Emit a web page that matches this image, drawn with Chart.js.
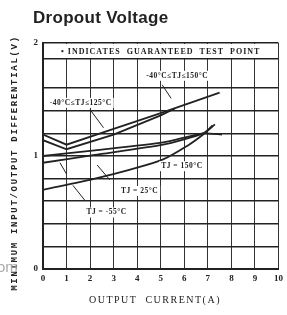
<!DOCTYPE html>
<html>
<head>
<meta charset="utf-8">
<script src="https://cdn.jsdelivr.net/npm/chart.js@4/dist/chart.umd.min.js"></script>
<style>
  html, body { margin: 0; padding: 0; background: #fff; }
  #wrap { width: 287px; height: 315px; }
</style>
</head>
<body>
<div id="wrap"><canvas id="dropoutChart" width="287" height="315"></canvas></div>
<script>
// guaranteed limit lines
const guar150X = [0, 1, 3, 5, 7.5];
const guar150Y = [1.19, 1.10, 1.24, 1.38, 1.56];
const guar125X = [0, 1, 3, 5, 5.6];
const guar125Y = [1.14, 1.06, 1.19, 1.36, 1.42];
// typical curves
const tj150X = [0, 2.2, 5.1, 6.8, 7.6];
const tj150Y = [1.00, 1.05, 1.12, 1.20, 1.19];
const tj25X = [0, 2.2, 5.1, 6.8, 7.2];
const tj25Y = [0.94, 1.01, 1.10, 1.20, 1.27];
const tjm55X = [0, 2.2, 3.7, 5.1, 6.2, 6.8, 7.3];
const tjm55Y = [0.70, 0.80, 0.88, 0.97, 1.10, 1.19, 1.28];

const xTicks = [0, 1, 2, 3, 4, 5, 6, 7, 8, 9, 10];
const yTickLabels = [0, 1, 2];

const toPoints = (xs, ys) => xs.map((x, i) => ({ x, y: ys[i] }));

const ink = '#222';
const serif = '"Liberation Serif", "DejaVu Serif", serif';

function line(xs, ys, tension) {
    return {
        data: toPoints(xs, ys),
        borderColor: ink,
        borderWidth: 1.8,
        pointRadius: 0,
        tension: tension
    };
}

const annotate = {
    id: 'annotate',
    beforeDatasetsDraw(chart) {
        const { ctx, chartArea: a, scales: { x, y } } = chart;
        // note box at the top
        const yb = y.getPixelForValue(1.86);
        ctx.save();
        ctx.fillStyle = '#fff';
        ctx.fillRect(a.left + 1, a.top + 1, a.right - a.left - 2, yb - a.top - 1);
        ctx.strokeStyle = ink;
        ctx.lineWidth = 1.5;
        ctx.beginPath();
        ctx.moveTo(a.left, yb);
        ctx.lineTo(a.right, yb);
        ctx.stroke();
        ctx.fillStyle = ink;
        ctx.font = 'bold 8px ' + serif;
        ctx.letterSpacing = '1px';
        ctx.textBaseline = 'middle';
        ctx.fillText('\u2022 INDICATES  GUARANTEED  TEST  POINT', a.left + 18, (a.top + yb) / 2 + 1);
        ctx.restore();
    },
    afterDatasetsDraw(chart) {
        const { ctx, scales: { x, y } } = chart;
        ctx.save();
        ctx.strokeStyle = ink;
        ctx.lineWidth = 1;
        const pointers = [
            [5.06, 1.63, 5.44, 1.51],
            [2.0, 1.41, 2.57, 1.25],
            [0.72, 0.94, 1.0, 0.84],
            [2.3, 0.92, 2.83, 0.79],
            [1.27, 0.74, 1.77, 0.61]
        ];
        pointers.forEach(p => {
            ctx.beginPath();
            ctx.moveTo(x.getPixelForValue(p[0]), y.getPixelForValue(p[1]));
            ctx.lineTo(x.getPixelForValue(p[2]), y.getPixelForValue(p[3]));
            ctx.stroke();
        });
        const labels = [
            ['-40\u00b0C\u2264TJ\u2264150\u00b0C', 5.7, 1.71],
            ['-40\u00b0C\u2264TJ\u2264125\u00b0C', 1.6, 1.47],
            ['TJ = 150\u00b0C', 5.9, 0.91],
            ['TJ = 25\u00b0C', 4.1, 0.69],
            ['TJ = -55\u00b0C', 2.7, 0.50]
        ];
        ctx.font = 'bold 7.5px ' + serif;
        ctx.letterSpacing = '0.5px';
        ctx.textAlign = 'center';
        ctx.textBaseline = 'middle';
        labels.forEach(l => {
            const px = x.getPixelForValue(l[1]);
            const py = y.getPixelForValue(l[2]);
            const w = ctx.measureText(l[0]).width;
            ctx.fillStyle = '#fff';
            ctx.fillRect(px - w / 2 - 2, py - 5, w + 4, 10);
            ctx.fillStyle = ink;
            ctx.fillText(l[0], px, py);
        });
        ctx.restore();
    },
    afterDraw(chart) {
        const { ctx } = chart;
        ctx.save();
        ctx.fillStyle = '#222';
        ctx.font = 'bold 17px "Liberation Sans", Arial, sans-serif';
        ctx.letterSpacing = '0.3px';
        ctx.textBaseline = 'alphabetic';
        ctx.fillText('Dropout Voltage', 33, 23);

        ctx.font = 'bold 9px "Liberation Mono", monospace';
        ctx.letterSpacing = '1.7px';
        ctx.textAlign = 'center';
        ctx.textBaseline = 'middle';
        ctx.translate(15, 163);
        ctx.rotate(-Math.PI / 2);
        ctx.fillText('MINIMUM INPUT/OUTPUT DIFFERENTIAL(V)', 0, 0);
        ctx.restore();

        ctx.save();
        ctx.fillStyle = '#222';
        ctx.font = '10px ' + serif;
        ctx.letterSpacing = '1.5px';
        ctx.textAlign = 'center';
        ctx.textBaseline = 'middle';
        ctx.fillText('OUTPUT  CURRENT(A)', 155, 300);

        ctx.letterSpacing = '0px';
        ctx.fillStyle = '#aaa';
        ctx.font = '15px "Liberation Sans", Arial, sans-serif';
        ctx.textAlign = 'left';
        ctx.fillText('om', -3, 268);
        ctx.restore();
    }
};

new Chart(document.getElementById('dropoutChart'), {
    type: 'line',
    data: {
        datasets: [
            line(guar150X, guar150Y, 0),
            line(guar125X, guar125Y, 0),
            line(tj150X, tj150Y, 0.2),
            line(tj25X, tj25Y, 0.2),
            line(tjm55X, tjm55Y, 0.3)
        ]
    },
    options: {
        responsive: false,
        animation: false,
        layout: { padding: { top: 43, right: 7, left: 0, bottom: 0 } },
        plugins: { legend: { display: false }, tooltip: { enabled: false } },
        scales: {
            x: {
                type: 'linear',
                min: 0,
                max: 10,
                afterFit(scale) { scale.height = 46; },
                afterBuildTicks(scale) { scale.ticks = xTicks.map(v => ({ value: v })); },
                ticks: {
                    color: ink,
                    font: { family: serif, size: 9, weight: 'bold' },
                    padding: 4,
                    maxRotation: 0
                },
                grid: { color: '#333', lineWidth: 1, drawTicks: false },
                border: { color: ink, width: 2 }
            },
            y: {
                min: 0,
                max: 2,
                afterFit(scale) { scale.width = 43; },
                ticks: {
                    stepSize: 0.2,
                    color: ink,
                    font: { family: serif, size: 9, weight: 'bold' },
                    padding: 5,
                    callback: v => (yTickLabels.includes(Math.round(v * 10) / 10) ? String(Math.round(v)) : '')
                },
                grid: {
                    color: ctx => (Math.abs(ctx.tick.value - 1.8) < 0.01 ? 'rgba(0,0,0,0)' : '#222'),
                    lineWidth: 1.6,
                    drawTicks: false
                },
                border: { color: ink, width: 2 }
            }
        }
    },
    plugins: [annotate]
});
</script>
</body>
</html>
